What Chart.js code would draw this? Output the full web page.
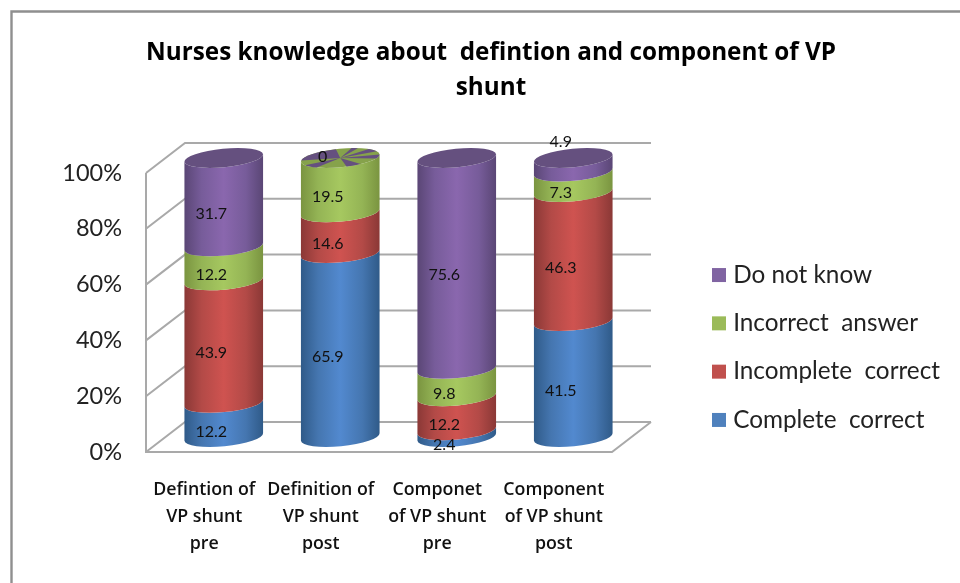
<!DOCTYPE html>
<html>
<head>
<meta charset="utf-8">
<title>Nurses knowledge</title>
<script src="https://cdn.jsdelivr.net/npm/chart.js@4"></script>
<style>
  html, body { margin: 0; background: #fff; }
  canvas { display: block; filter: blur(0.4px); }
</style>
</head>
<body>
<canvas id="myChart" width="960" height="583"></canvas>
<script>
const titleLines = ["Nurses knowledge about  defintion and component of VP", "shunt"];
const categories = [
  ["Defintion of", "VP shunt", "pre"],
  ["Definition of", "VP shunt", "post"],
  ["Componet", "of VP shunt", "pre"],
  ["Component", "of VP shunt", "post"]
];
const completeCorrect = [12.2, 65.9, 2.4, 41.5];
const incompleteCorrect = [43.9, 14.6, 12.2, 46.3];
const incorrectAnswer = [12.2, 19.5, 9.8, 7.3];
const doNotKnow = [31.7, 0, 75.6, 4.9];

const FONT = "Lato, 'Open Sans', sans-serif";
const HEAD_FONT = "'Open Sans', Lato, sans-serif";
const WALL = "#a9a9a9";
// how far the floor goes back, and where the cylinders stand on it
const DEPTH_X = 39, DEPTH_Y = 30;
const BAR_X = 19.5, BAR_Y = 15;
const RY = 9.2, TILT = -0.095;
// labels the original moved by hand [dataset, column, dx, dy]
const MOVED = [[3, 1, -5, -12.5], [3, 3, 0, -34]];
// purple wedges on the zero height top, in degrees
const WEDGES = [[95, 172], [205, 232], [278, 300], [335, 358], [20, 42], [62, 72]];

const shades = [
  { edge: "#2f5a88", soft: "#4576b0", mid: "#5289cf", top: "#3f6a9c" },
  { edge: "#8a3836", soft: "#b34a47", mid: "#cf5350", top: "#96403d" },
  { edge: "#7a9440", soft: "#94b455", mid: "#a6c860", top: "#86a24b" },
  { edge: "#5a4675", soft: "#775c9a", mid: "#8a67ae", top: "#65507f" }
];

function sideFill(ctx, left, width, s) {
  const g = ctx.createLinearGradient(left, 0, left + width, 0);
  g.addColorStop(0, s.edge);
  g.addColorStop(0.22, s.soft);
  g.addColorStop(0.5, s.mid);
  g.addColorStop(0.78, s.soft);
  g.addColorStop(1, s.edge);
  return g;
}

const walls = {
  id: "walls",
  beforeDraw(chart) {
    const { ctx, chartArea: a, scales: { y } } = chart;
    ctx.save();
    // outer frame of the chart
    ctx.strokeStyle = "#8f8f8f";
    ctx.lineWidth = 2.4;
    ctx.beginPath();
    ctx.moveTo(11.5, chart.height);
    ctx.lineTo(11.5, 11.5);
    ctx.lineTo(chart.width, 11.5);
    ctx.stroke();

    ctx.strokeStyle = WALL;
    ctx.lineWidth = 2;
    ctx.beginPath();
    y.ticks.forEach((t) => {
      const py = y.getPixelForValue(t.value);
      ctx.moveTo(a.left, py);
      ctx.lineTo(a.left + DEPTH_X, py - DEPTH_Y);
      ctx.lineTo(a.right + DEPTH_X, py - DEPTH_Y);
    });
    ctx.moveTo(a.left, a.top);
    ctx.lineTo(a.left, a.bottom);
    ctx.lineTo(a.right, a.bottom);
    ctx.lineTo(a.right + DEPTH_X, a.bottom - DEPTH_Y);
    ctx.stroke();
    ctx.restore();
  },
  beforeLayout(chart) {
    // legend sits right of the plot, its width is fixed so the plot keeps its size
    const lg = chart.legend;
    if (lg && !lg.patched) {
      const fit = lg.fit;
      lg.fit = function () {
        fit.call(this);
        this.width = 348;
      };
      lg.patched = true;
    }
  },
  afterLayout(chart) {
    const lg = chart.legend;
    lg.left = 693;
    lg.top = 238.9;
    lg.right = 960;
    lg.bottom = 583;
  }
};

// the bars themselves are replaced by cylinders built from their elements
const cylinders = {
  id: "cylinders",
  beforeDatasetsDraw(chart) {
    const { ctx, data } = chart;
    ctx.save();
    data.labels.forEach((_, col) => {
      let last = null;
      data.datasets.forEach((ds, i) => {
        const el = chart.getDatasetMeta(i).data[col];
        const rx = el.width / 2;
        const cx = el.x + BAR_X;
        if (ds.data[col] > 0) {
          ctx.beginPath();
          ctx.ellipse(cx, el.base - BAR_Y, rx, RY, TILT, 0, Math.PI);
          ctx.ellipse(cx, el.y - BAR_Y, rx, RY, TILT, Math.PI, 0, true);
          ctx.closePath();
          ctx.fillStyle = sideFill(ctx, cx - rx, rx * 2, shades[i]);
          ctx.fill();
          last = i;
        }
      });
      const el = chart.getDatasetMeta(last).data[col];
      const rx = el.width / 2;
      const cx = el.x + BAR_X;
      const cy = el.y - BAR_Y;
      ctx.beginPath();
      ctx.ellipse(cx, cy, rx, RY, TILT, 0, Math.PI * 2);
      ctx.fillStyle = shades[last].top;
      ctx.fill();
      // a zero height slice on top shows up as a star in the original
      if (last < data.datasets.length - 1) {
        ctx.fillStyle = shades[last + 1].top;
        WEDGES.forEach(([a, b]) => {
          ctx.beginPath();
          ctx.moveTo(cx, cy);
          ctx.ellipse(cx, cy, rx, RY, TILT, -a * Math.PI / 180, -b * Math.PI / 180, true);
          ctx.closePath();
          ctx.fill();
        });
      }
    });
    ctx.restore();
    return false;
  },
  afterDraw(chart) {
    const { ctx, data } = chart;
    ctx.save();
    ctx.font = "16px " + FONT;
    ctx.fillStyle = "#111";
    ctx.textAlign = "center";
    ctx.textBaseline = "middle";
    data.datasets.forEach((ds, i) => {
      chart.getDatasetMeta(i).data.forEach((el, col) => {
        const moved = MOVED.find((m) => m[0] === i && m[1] === col);
        const x = el.x + 7 + (moved ? moved[2] : 0);
        const y = (el.y + el.base) / 2 - 3.5 + (moved ? moved[3] : 0);
        ctx.fillText(ds.data[col], x, y);
      });
    });
    ctx.restore();
  }
};

function series(label, values, color) {
  return { label, data: values, backgroundColor: color, borderColor: color, borderWidth: 10 };
}

new Chart(document.getElementById("myChart"), {
  type: "bar",
  data: {
    labels: categories,
    datasets: [
      series("Complete  correct", completeCorrect, "#4f81bd"),
      series("Incomplete  correct", incompleteCorrect, "#c0504d"),
      series("Incorrect  answer", incorrectAnswer, "#9bbb59"),
      series("Do not know", doNotKnow, "#8064a2")
    ]
  },
  plugins: [walls, cylinders],
  options: {
    responsive: false,
    animation: false,
    layout: { padding: { left: 22, right: 0, top: 0, bottom: 0 } },
    datasets: { bar: { categoryPercentage: 1, barPercentage: 0.678 } },
    scales: {
      x: {
        stacked: true,
        grid: { display: false, drawTicks: false },
        border: { display: false },
        afterFit: (s) => { s.height = 131; },
        ticks: {
          padding: 24,
          maxRotation: 0,
          autoSkip: false,
          color: "#111",
          font: { family: HEAD_FONT, size: 17.8, weight: "600", lineHeight: 1.52 }
        }
      },
      y: {
        stacked: true,
        min: 0,
        max: 100,
        grid: { display: false, drawTicks: false },
        border: { display: false },
        afterFit: (s) => { s.width = 124; },
        ticks: {
          stepSize: 20,
          padding: 24,
          color: "#222",
          font: { family: FONT, size: 23.5 },
          callback: (v) => v + "%"
        }
      }
    },
    plugins: {
      tooltip: { enabled: false },
      title: {
        display: true,
        text: titleLines,
        color: "#000",
        padding: { top: 36, bottom: 67 },
        font: { family: HEAD_FONT, size: 24.25, weight: "bold", lineHeight: 1.443 }
      },
      legend: {
        position: "right",
        align: "start",
        reverse: true,
        labels: {
          boxWidth: 4,
          boxHeight: 4,
          padding: 24,
          color: "#222",
          font: { family: FONT, size: 24.3, lineHeight: 1.2 }
        }
      }
    }
  }
});
</script>
</body>
</html>
